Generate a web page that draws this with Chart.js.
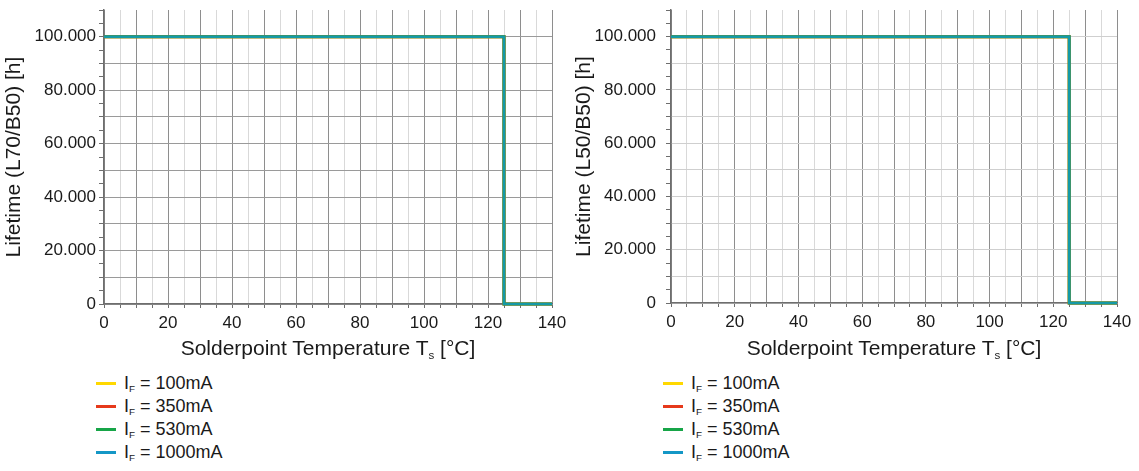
<!DOCTYPE html>
<html>
<head>
<meta charset="utf-8">
<script src="https://cdn.jsdelivr.net/npm/chart.js@4.4.1/dist/chart.umd.min.js"></script>
<style>
  html, body { margin:0; padding:0; background:#fff; }
  body { width:1139px; height:471px; position:relative; overflow:hidden; font-family:"Liberation Sans", Arial, sans-serif; color:#1a1a1a; }
  .panel { position:absolute; top:0; height:471px; }
  .cwrap { position:absolute; left:0; top:0; height:340px; }
  .xtitle { position:absolute; top:336px; font-size:21px; white-space:nowrap; transform:translateX(-50%); }
  .xtitle sub, .leg sub { font-size:0.55em; vertical-align:-0.35em; line-height:0; }
  .legend { position:absolute; top:372px; }
  .leg { position:relative; height:23px; font-size:18px; white-space:nowrap; }
  .leg .sw { position:absolute; left:0; top:10px; width:20px; height:2.5px; }
  .leg .tx { position:absolute; left:28px; top:0; line-height:22px; }
</style>
</head>
<body>
<script>
// ---- data ----
const seriesLabels = ["100mA", "350mA", "530mA", "1000mA"];
const seriesColors = ["#ffd800", "#e6391b", "#17a548", "#1497c6"];
const lineAlpha = [1, 1, 1, 0.75];               // top curve lets the one below show through
const temperature = [0, 125, 125, 140];          // Solderpoint temperature Ts [°C]
const lifetimeL70 = [100000, 100000, 0, 0];      // same curve for every IF
const lifetimeL50 = [100000, 100000, 0, 0];
const xTicks = [0, 20, 40, 60, 80, 100, 120, 140];
const yTicks = [0, 20000, 40000, 60000, 80000, 100000];

const panels = [
  { left: 0,   width: 570, yAxisW: 104, padRight: 18, top: 10, bottom: 304, tickPad: 3,  yTitle: "Lifetime (L70/B50) [h]", values: lifetimeL70, hGrid: "#9a9a9a" },
  { left: 570, width: 569, yAxisW: 101, padRight: 22, top: 10, bottom: 303, tickPad: 10, yTitle: "Lifetime (L50/B50) [h]", values: lifetimeL50, hGrid: "#cfcfcf" }
];

function fmt(v) { return String(v).replace(/\B(?=(\d{3})+(?!\d))/g, "."); }
function withAlpha(hex, a) {
  const n = parseInt(hex.slice(1), 16);
  return "rgba(" + (n >> 16) + "," + ((n >> 8) & 255) + "," + (n & 255) + "," + a + ")";
}

panels.forEach((p, pi) => {
  const panel = document.createElement("div");
  panel.className = "panel";
  panel.style.left = p.left + "px";
  panel.style.width = p.width + "px";
  const wrap = document.createElement("div");
  wrap.className = "cwrap";
  wrap.style.width = p.width + "px";
  const cv = document.createElement("canvas");
  wrap.appendChild(cv);
  panel.appendChild(wrap);

  const plotL = p.yAxisW, plotR = p.width - p.padRight;
  const xt = document.createElement("div");
  xt.className = "xtitle";
  xt.style.left = ((plotL + plotR) / 2) + "px";
  xt.innerHTML = "Solderpoint Temperature T<sub>s</sub> [°C]";
  panel.appendChild(xt);

  const lg = document.createElement("div");
  lg.className = "legend";
  lg.style.left = (plotL - 8) + "px";
  seriesLabels.forEach((s, i) => {
    const row = document.createElement("div");
    row.className = "leg";
    row.innerHTML = '<span class="sw" style="background:' + seriesColors[i] + '"></span><span class="tx">I<sub>F</sub> = ' + s + '</span>';
    lg.appendChild(row);
  });
  panel.appendChild(lg);
  document.body.appendChild(panel);

  const datasets = seriesLabels.map((s, i) => ({
    label: "IF = " + s,
    data: temperature.map((t, k) => ({ x: t, y: p.values[k] })),
    borderColor: withAlpha(seriesColors[i], lineAlpha[i]),
    backgroundColor: seriesColors[i],
    borderWidth: i === 3 ? 2.5 : 3,
    showLine: true,
    pointRadius: 0,
    fill: false,
    tension: 0,
    clip: 4,
    order: seriesLabels.length - i
  }));

  new Chart(cv, {
    type: "scatter",
    data: { datasets },
    options: {
      responsive: true,
      maintainAspectRatio: false,
      animation: false,
      events: [],
      layout: { padding: { top: p.top, right: p.padRight, bottom: 0, left: 0 } },
      plugins: { legend: { display: false }, tooltip: { enabled: false } },
      scales: {
        x: {
          type: "linear", min: 0, max: 140,
          afterFit: s => { s.height = 340 - p.bottom; s.paddingLeft = 0; s.paddingRight = 0; },
          afterBuildTicks: s => { s.ticks = []; for (let v = 0; v <= 140; v += 5) s.ticks.push({ value: v }); },
          border: { color: "#6e6e6e", width: 1.5 },
          grid: {
            color: c => (c.tick && c.tick.value % 10 === 0) ? "#8e8e8e" : "#d9d9d9",
            tickColor: "#6e6e6e",
            tickLength: 4,
            lineWidth: 1
          },
          ticks: {
            autoSkip: false, maxRotation: 0, padding: 5,
            color: "#1a1a1a",
            font: { family: "Liberation Sans", size: 17 },
            callback: v => xTicks.includes(v) ? String(v) : ""
          }
        },
        y: {
          type: "linear", min: 0, max: 110000,
          afterFit: s => { s.width = p.yAxisW; s.paddingTop = 0; s.paddingBottom = 0; },
          afterBuildTicks: s => { s.ticks = []; for (let v = 0; v <= 110000; v += 5000) s.ticks.push({ value: v }); },
          border: { color: "#6e6e6e", width: 1.5 },
          grid: {
            color: c => (c.tick && c.tick.value % 10000 === 0 && c.tick.value < 110000) ? p.hGrid : "rgba(0,0,0,0)",
            tickColor: "#6e6e6e",
            tickLength: 5,
            lineWidth: 1
          },
          ticks: {
            autoSkip: false, padding: p.tickPad,
            color: "#1a1a1a",
            font: { family: "Liberation Sans", size: 17 },
            callback: v => yTicks.includes(v) ? fmt(v) : ""
          },
          title: {
            display: true, text: p.yTitle, color: "#1a1a1a",
            font: { family: "Liberation Sans", size: 21 },
            padding: { top: 2, bottom: 0 }
          }
        }
      }
    }
  });
});
</script>
</body>
</html>
